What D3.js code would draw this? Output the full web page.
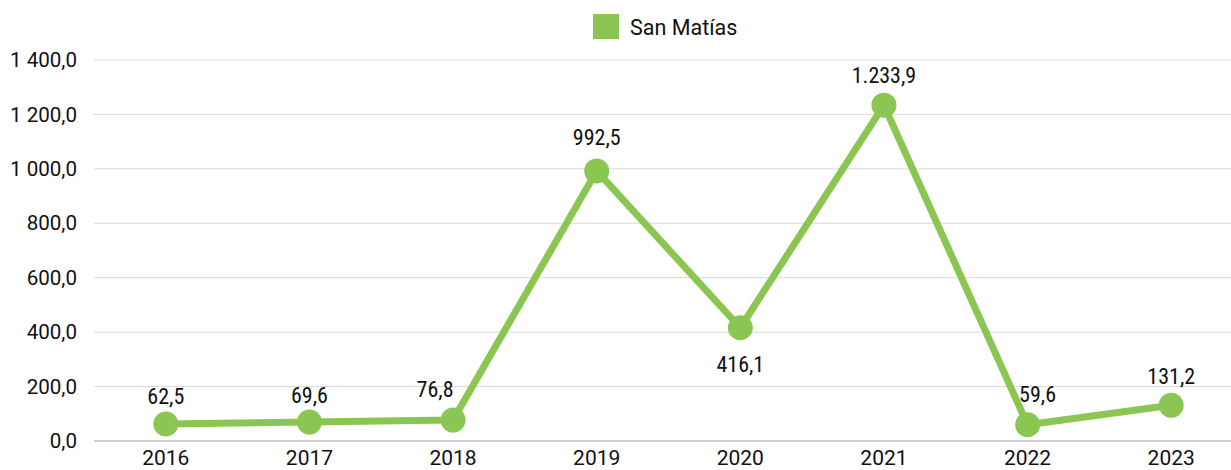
<!DOCTYPE html>
<html><head><meta charset="utf-8">
<script src="https://cdn.jsdelivr.net/npm/d3@7"></script>
<style>body{margin:0;background:#fff;}svg{display:block;font-family:Roboto,"Noto Sans",sans-serif;}</style>
</head><body>
<svg id="c" width="1231" height="470"></svg>
<script>
const years = ["2016","2017","2018","2019","2020","2021","2022","2023"];
const values = [62.5, 69.6, 76.8, 992.5, 416.1, 1233.9, 59.6, 131.2];
const valueLabels = ["62,5","69,6","76,8","992,5","416,1","1.233,9","59,6","131,2"];
const yTicks = [0,200,400,600,800,1000,1200,1400];
const yTickLabels = ["0,0","200,0","400,0","600,0","800,0","1 000,0","1 200,0","1 400,0"];
const seriesName = "San Matías";

const color = "#8BC653";
const svg = d3.select("#c");
const x = d3.scaleBand().domain(years).range([94, 1243]);
const y = d3.scaleLinear().domain([0,1400]).range([441, 60]);

// gridlines
svg.append("g").selectAll("line").data(yTicks).join("line")
  .attr("x1",94).attr("x2",1231)
  .attr("y1",d=>y(d)).attr("y2",d=>y(d))
  .attr("stroke",d=>d===0?"#bfbfbf":"#d9d9d9").attr("stroke-width",d=>d===0?1.5:1);

// y labels
svg.append("g").selectAll("text").data(yTicks).join("text")
  .attr("x",77).attr("y",d=>y(d)).attr("dy","0.35em")
  .attr("text-anchor","end").attr("font-size",20.6).attr("fill","#111")
  .text((d,i)=>yTickLabels[i]);

// x labels
svg.append("g").selectAll("text").data(years).join("text")
  .attr("x",d=>x(d)+x.bandwidth()/2).attr("y",465)
  .attr("text-anchor","middle").attr("font-size",21).attr("fill","#111")
  .text(d=>d);

const cx = (d,i)=>x(years[i])+x.bandwidth()/2;
const line = d3.line().x((d,i)=>cx(d,i)).y(d=>y(d));
svg.append("path").datum(values).attr("d",line)
  .attr("fill","none").attr("stroke",color).attr("stroke-width",7).attr("stroke-linejoin","round");
svg.append("g").selectAll("circle").data(values).join("circle")
  .attr("cx",cx).attr("cy",d=>y(d)).attr("r",12.5).attr("fill",color);

// data labels
const shiftX = [0,0,-18,0,0,0,10,0];
const shiftY = [-20,-19,-23,-26,44,-22,-23,-21];
svg.append("g").selectAll("text").data(values).join("text")
  .attr("x",(d,i)=>cx(d,i)+shiftX[i]).attr("y",(d,i)=>y(d)+shiftY[i])
  .attr("text-anchor","middle").attr("font-size",22).attr("fill","#111")
  .attr("font-stretch","condensed")
  .text((d,i)=>valueLabels[i]);

// legend
const lg = svg.append("g");
lg.append("rect").attr("x",593).attr("y",14).attr("width",26).attr("height",25).attr("fill",color);
lg.append("text").attr("x",630).attr("y",35).attr("font-size",21.5).attr("fill","#111").text(seriesName);
</script>
</body></html>
